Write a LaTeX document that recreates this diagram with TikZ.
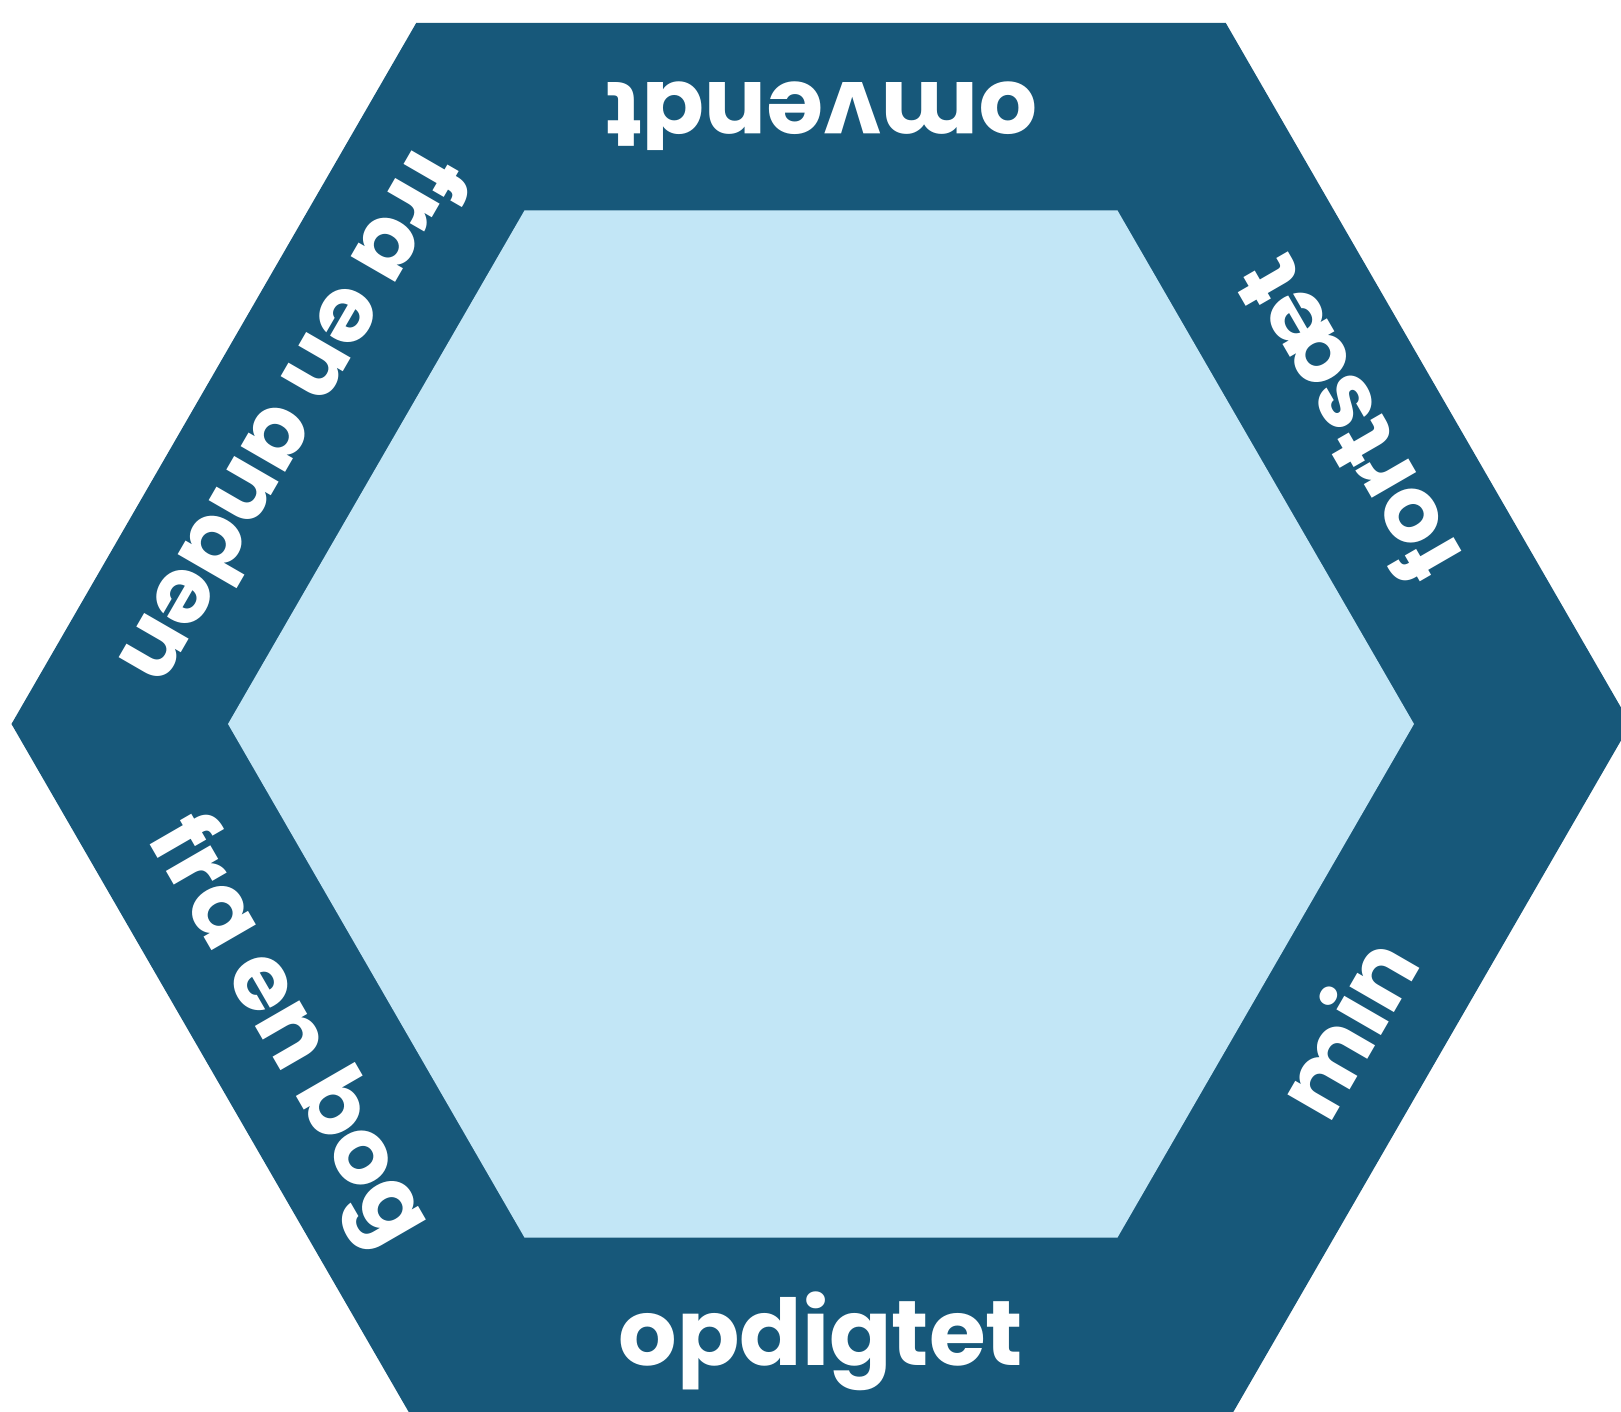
\documentclass[tikz,border=0pt]{standalone}
\usepackage{fontspec}
\setmainfont{Poppins}
\usepackage{tikz}
\definecolor{hexdark}{RGB}{23,88,122}
\definecolor{hexlight}{RGB}{194,230,246}

\begin{document}
\begin{tikzpicture}[
  x=0.5pt, y=0.5pt,
  band/.style={fill=hexdark},
  core/.style={fill=hexlight},
  sidelabel/.style={text=white, font=\fontsize{46}{56}\selectfont\bfseries, anchor=base, inner sep=0pt}
]
\useasboundingbox (-821,-688) rectangle (800,724);

% outer band and inner face
\fill[band] (0:809.5) -- (60:809.5) -- (120:809.5) -- (180:809.5) -- (240:809.5) -- (300:809.5) -- cycle;
\fill[core] (0:593) -- (60:593) -- (120:593) -- (180:593) -- (240:593) -- (300:593) -- cycle;

% one word per side, tops facing the centre
\foreach \ang/\word/\nm in {90/omvendt/top, 30/fortsæt/upright, -30/min/lowright, -90/opdigtet/bottom, -150/fra en bog/lowleft, 150/fra en anden/upleft}
  \node[sidelabel, rotate=\ang+90] (side-\nm) at (\ang:641) {\word};

\end{tikzpicture}
\end{document}
